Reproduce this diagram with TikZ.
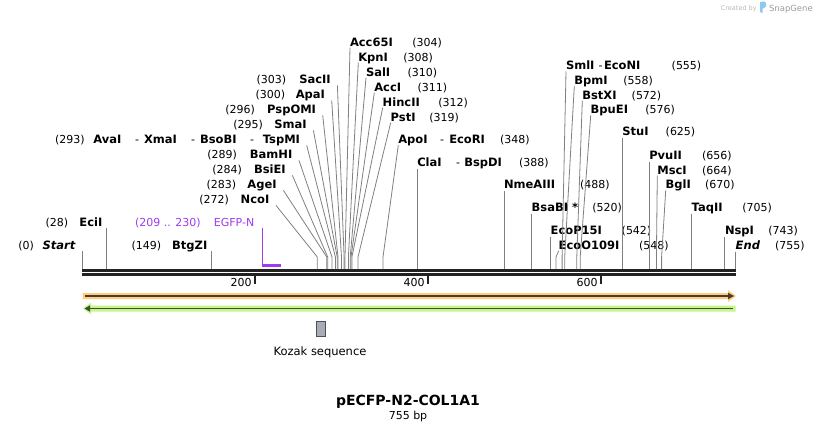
\documentclass[tikz,border=0pt]{standalone}
\usepackage{fontspec}
\setmainfont{DejaVu Sans}
\definecolor{siteg}{RGB}{128,128,128}
\definecolor{barc}{RGB}{34,34,34}
\definecolor{purp}{RGB}{160,60,240}
\definecolor{orfill}{RGB}{255,204,128}
\definecolor{orline}{RGB}{70,60,50}
\definecolor{grfill}{RGB}{198,245,140}
\definecolor{grline}{RGB}{62,80,52}
\definecolor{kozfill}{RGB}{168,173,181}
\definecolor{kozline}{RGB}{80,80,84}
\definecolor{wmgray}{RGB}{185,185,185}
\definecolor{wmblue}{RGB}{140,200,240}
\tikzset{
  lbl/.style={inner sep=0pt, outer sep=0pt, font=\fontsize{11}{13}\selectfont},
  nm/.style={inner sep=0pt, outer sep=0pt, font=\fontsize{11.5}{13}\selectfont\bfseries},
  num/.style={lbl},
  siteline/.style={draw=siteg, line width=0.8pt},
  tickmark/.style={draw=barc, line width=2pt},
}
% left-side label: id, number, number x, name, name end x, baseline
\newcommand{\leftlab}[6]{%
  \node[num, anchor=base west] (#1n) at (#3,#6) {#2};
  \node[nm, anchor=base east] (#1) at (#5,#6) {#4};}
% right-side label: id, name, name x, number, number x, baseline
\newcommand{\rightlab}[6]{%
  \node[nm, anchor=base west] (#1) at (#3,#6) {#2};
  \node[num, anchor=base west] (#1n) at (#5,#6) {#4};}
% fan line from end of a left label: id, site x
\newcommand{\fanL}[2]{%
  \coordinate (#1s) at (#2,257);
  \draw[siteline] ([shift={(6.7,1.7)}]#1.base east) -- (#1s) -- (#1s |- bartop);}
% fan line from start of a right label: id, site x
\newcommand{\fanR}[2]{%
  \coordinate (#1s) at (#2,257);
  \draw[siteline] ([shift={(0,1.7)}]#1.base west) -- (#1s) -- (#1s |- bartop);}
% vertical line below a label: id, site x, top y
\newcommand{\vsite}[3]{%
  \coordinate (#1t) at (#2,#3);
  \draw[siteline] (#1t) -- (#1t |- bartop);}
\begin{document}
\begin{tikzpicture}[x=1pt,y=-1pt]
\useasboundingbox (0,0) rectangle (818,432);
\fill[white] (0,0) rectangle (818,432);

% ---------- sequence bar ----------
\coordinate (bartop) at (0,269);
\fill[barc] (82,269) rectangle (735.7,272);
\fill[barc] (82,273) rectangle (735.7,276);

% ticks
\draw[tickmark] (255,276) -- (255,283.5);
\draw[tickmark] (428,276) -- (428,283.5);
\draw[tickmark] (601,276) -- (601,283.5);
\node[lbl, anchor=base east] (t200) at (251.5,286) {200};
\node[lbl, anchor=base east] (t400) at (424.5,286) {400};
\node[lbl, anchor=base east] (t600) at (597.5,286) {600};

% ---------- left labels ----------
\leftlab{Start}{(0)}{18.3}{\textit{Start}}{75.7}{249}
\leftlab{EciI}{(28)}{45.7}{EciI}{102.3}{226}
\leftlab{BtgZI}{(149)}{131.7}{BtgZI}{207.3}{249}
\node[lbl, text=purp, anchor=base west] (egfpn) at (135,226) {(209 .. 230)};
\node[lbl, text=purp, anchor=base east] (egfp) at (254.3,226) {EGFP-N};
\leftlab{NcoI}{(272)}{199.3}{NcoI}{269.3}{203.7}
\leftlab{AgeI}{(283)}{206.7}{AgeI}{276.7}{188.7}
\leftlab{BsiEI}{(284)}{212.3}{BsiEI}{285.7}{173.7}
\leftlab{BamHI}{(289)}{207.3}{BamHI}{292.3}{158.7}
\node[num, anchor=base west] (AvaIn) at (55,143.7) {(293)};
\node[nm, anchor=base west] (AvaI) at (93.3,143.7) {AvaI};
\node[lbl, anchor=base west] (d1) at (135,143.7) {-};
\node[nm, anchor=base west] (XmaI) at (144,143.7) {XmaI};
\node[lbl, anchor=base west] (d2) at (191,143.7) {-};
\node[nm, anchor=base west] (BsoBI) at (200,143.7) {BsoBI};
\node[lbl, anchor=base west] (d3) at (250,143.7) {-};
\node[nm, anchor=base east] (TspMI) at (300,143.7) {TspMI};
\leftlab{SmaI}{(295)}{233.3}{SmaI}{306.7}{128.7}
\leftlab{PspOMI}{(296)}{225.3}{PspOMI}{316}{113.7}
\leftlab{ApaI}{(300)}{255.7}{ApaI}{325}{98.7}
\leftlab{SacII}{(303)}{256.7}{SacII}{330.7}{83.7}

% ---------- right labels ----------
\rightlab{Acc}{Acc65I}{350}{(304)}{412.3}{46}
\rightlab{KpnI}{KpnI}{358.3}{(308)}{403.3}{61}
\rightlab{SalI}{SalI}{366}{(310)}{407.7}{76}
\rightlab{AccI}{AccI}{374.3}{(311)}{417.7}{91}
\rightlab{HincII}{HincII}{382.7}{(312)}{438.3}{106}
\rightlab{PstI}{PstI}{390.7}{(319)}{429.3}{121}
\node[nm, anchor=base west] (ApoI) at (398.3,143.5) {ApoI};
\node[lbl, anchor=base west] (d4) at (440,143.5) {-};
\node[nm, anchor=base west] (EcoRI) at (449.3,143.5) {EcoRI};
\node[num, anchor=base west] (ApoIn) at (500,143.5) {(348)};
\node[nm, anchor=base west] (ClaI) at (417.3,166) {ClaI};
\node[lbl, anchor=base west] (d5) at (456,166) {-};
\node[nm, anchor=base west] (BspDI) at (464.3,166) {BspDI};
\node[num, anchor=base west] (ClaIn) at (519,166) {(388)};
\rightlab{Nme}{NmeAIII}{504}{(488)}{580}{188.7}
\rightlab{BsaBI}{BsaBI *}{531.7}{(520)}{592.3}{211}
\rightlab{EcoP}{EcoP15I}{550.7}{(542)}{621.7}{234.3}
\rightlab{EcoO}{EcoO109I}{558.7}{(548)}{639}{249}
\node[nm, anchor=base west] (SmlI) at (566,69.7) {SmlI};
\node[lbl, anchor=base west] (d6) at (598.5,69.7) {-};
\node[nm, anchor=base west] (EcoNI) at (604,69.7) {EcoNI};
\node[num, anchor=base west] (SmlIn) at (671.7,69.7) {(555)};
\rightlab{BpmI}{BpmI}{574.3}{(558)}{623.3}{84.3}
\rightlab{BstXI}{BstXI}{582.3}{(572)}{631.7}{99}
\rightlab{BpuEI}{BpuEI}{590.7}{(576)}{645.3}{113.7}
\rightlab{StuI}{StuI}{622.3}{(625)}{665.7}{135.7}
\rightlab{PvuII}{PvuII}{649.3}{(656)}{702}{159.3}
\rightlab{MscI}{MscI}{657.3}{(664)}{702}{174}
\rightlab{BglI}{BglI}{665.7}{(670)}{705}{188.7}
\rightlab{TaqII}{TaqII}{691.7}{(705)}{742.3}{211}
\rightlab{NspI}{NspI}{725}{(743)}{768.3}{234.3}
\rightlab{End}{\textit{End}}{735.7}{(755)}{775}{249}

% ---------- site lines ----------
\vsite{Start}{82}{251}
\vsite{EciI}{106.2}{228}
\vsite{BtgZI}{210.9}{251}
\fanL{NcoI}{317.3}
\fanL{AgeI}{326.8}
\fanL{BsiEI}{327.7}
\fanL{BamHI}{332}
\fanL{TspMI}{335.4}
\fanL{SmaI}{337.2}
\fanL{PspOMI}{338}
\fanL{ApaI}{341.5}
\fanL{SacII}{344.1}
\fanR{Acc}{345}
\fanR{KpnI}{348.4}
\fanR{SalI}{350.2}
\fanR{AccI}{351}
\fanR{HincII}{351.9}
\fanR{PstI}{358}
\fanR{ApoI}{383}
\vsite{ClaI}{417.6}{168.5}
\vsite{Nme}{504.1}{191.2}
\vsite{BsaBI}{531.8}{213.5}
\vsite{EcoP}{550.8}{236.8}
\fanR{EcoO}{556}
\fanR{SmlI}{562.1}
\fanR{BpmI}{564.7}
\fanR{BstXI}{576.8}
\fanR{BpuEI}{580.2}
\vsite{StuI}{622.6}{138.2}
\vsite{PvuII}{649.4}{161.8}
\fanR{MscI}{656.4}
\fanR{BglI}{661.6}
\vsite{TaqII}{691.8}{213.5}
\vsite{NspI}{724.7}{236.8}
\vsite{End}{735.1}{251.5}

% ---------- EGFP-N primer ----------
\coordinate (pr1) at (262.8,228);
\coordinate (pr2) at (262.8,265.5);
\coordinate (pr3) at (281,265.5);
\draw[purp, line width=1.2pt] (pr1) -- (pr2);
\draw[purp, line width=2.3pt] ([xshift=-0.6]pr2) -- (pr3);

% ---------- features ----------
\fill[orfill] (82.5,293) -- (728,293) -- (728,290) -- (736,296) -- (728,302) -- (728,299) -- (82.5,299) -- cycle;
\draw[orline, line width=1.8pt] (85,296) -- (729,296);
\fill[orline] (728,292.8) -- (734,296) -- (728,299.2) -- cycle;
\fill[grfill] (735.7,305.5) -- (91,305.5) -- (91,302.5) -- (83,308.5) -- (91,314.5) -- (91,311.5) -- (735.7,311.5) -- cycle;
\draw[grline, line width=1.8pt] (733,308.5) -- (89,308.5);
\fill[grline] (90,305.3) -- (84.5,308.5) -- (90,311.7) -- cycle;

% ---------- Kozak ----------
\node[draw=kozline, fill=kozfill, line width=0.8pt, minimum width=9.5pt, minimum height=15pt, inner sep=0pt] (kozak) at (321,329) {};
\node[inner sep=0pt, anchor=base, font=\fontsize{11.5}{13}\selectfont] (kozakl) at (320,355) {Kozak sequence};

% ---------- title ----------
\node[inner sep=0pt, anchor=base, font=\fontsize{14}{16}\selectfont\bfseries] (title) at (408,405.7) {pECFP-N2-COL1A1};
\node[lbl, anchor=base] (len) at (408,419) {755 bp};

% ---------- watermark ----------
\node[inner sep=0pt, anchor=base west, text=wmgray, font=\fontsize{6.5}{8}\selectfont] (wm1) at (720.7,10.5) {Created by};
\fill[wmblue] (760,2) -- (764,1.5) .. controls (767,2) and (767,7) .. (764,8) -- (762.5,8.5) -- (762.5,13) -- (760,12) -- cycle;
\node[inner sep=0pt, anchor=base west, text=wmgray!85!black, font=\fontsize{8.5}{10}\selectfont] (wm2) at (768.8,11) {SnapGene};
\end{tikzpicture}
\end{document}
